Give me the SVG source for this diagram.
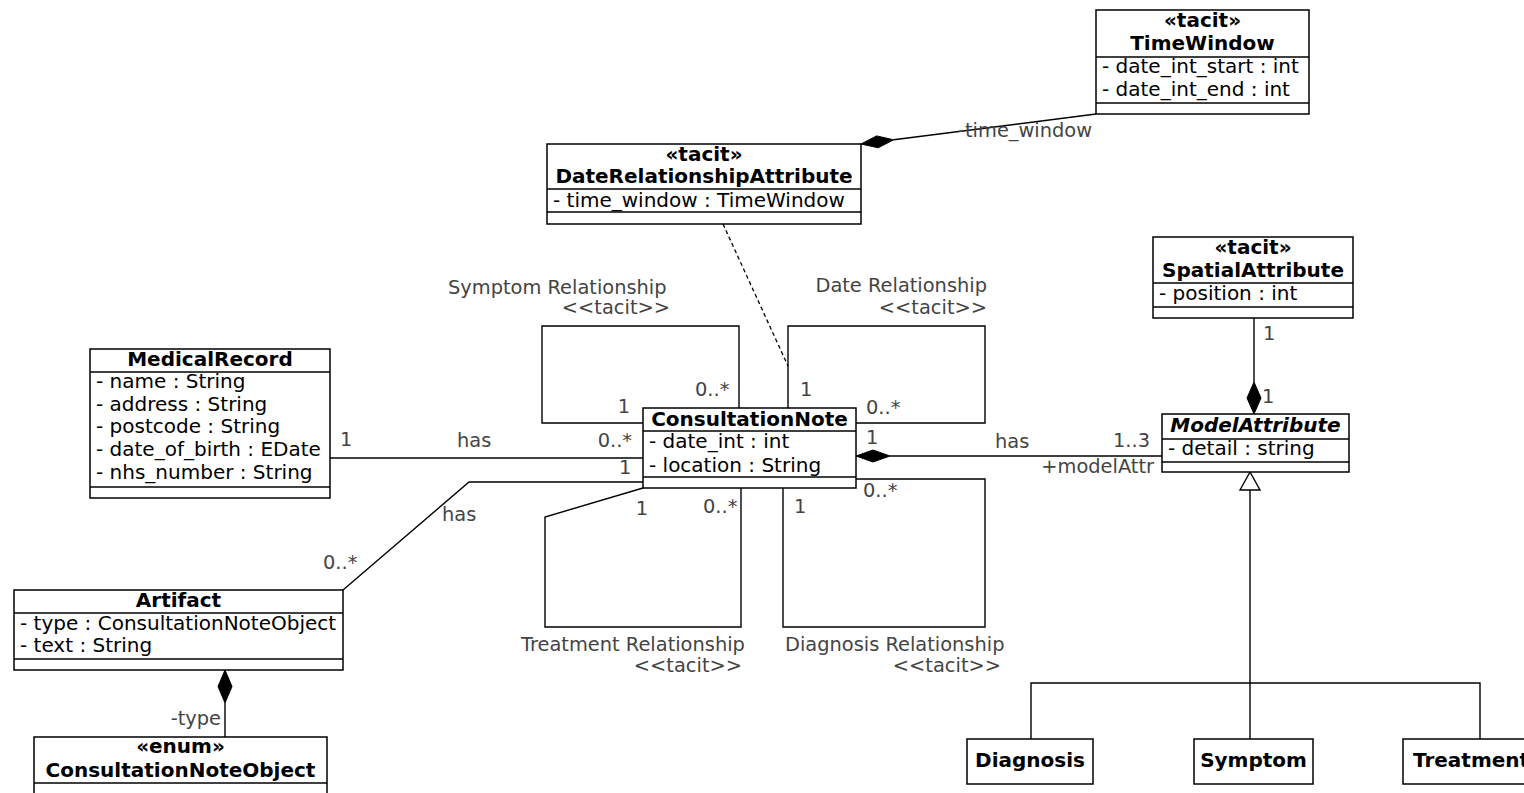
<svg xmlns="http://www.w3.org/2000/svg" width="1524" height="793" viewBox="0 0 1524 793">
  <style>
    .box { fill: #fff; stroke: #000; stroke-width: 1.5; }
    .sep { stroke: #000; stroke-width: 1.5; }
    .t { font-family: "DejaVu Sans", "Liberation Sans", sans-serif; font-size: 20px; fill: #000; }
    .b { font-weight: bold; }
    .c { text-anchor: middle; }
    .e { text-anchor: end; }
    .lbl { fill: #444; font-size: 19.4px; }
    .edge { fill: none; stroke: #000; stroke-width: 1.4; }
    .dash { fill: none; stroke: #000; stroke-width: 1.3; stroke-dasharray: 4 3; }
    .solid { fill: #000; stroke: #000; stroke-width: 1; }
    .hollow { fill: #fff; stroke: #000; stroke-width: 1.4; }
  </style>

  <!-- connectors -->
  <g id="connectors">
    <!-- TimeWindow composed in DateRelationshipAttribute -->
    <path class="edge" d="M893.7 139.8 L1096 114"/>
    <polygon class="solid" points="861,144 876.6,135.9 893.7,139.8 878.2,147.8"/>
    <!-- DateRelationshipAttribute attached to Date Relationship -->
    <path class="dash" d="M723 224 L788 366"/>
    <!-- self associations of ConsultationNote -->
    <path class="edge" d="M739 408 V326 H542 V423 H643"/>
    <path class="edge" d="M788 408 V326 H985 V423 H856"/>
    <path class="edge" d="M741 488 V627 H545 V517 L643 488"/>
    <path class="edge" d="M783 488 V627 H985 V479 H856"/>
    <!-- MedicalRecord has ConsultationNote -->
    <path class="edge" d="M330 458 H643"/>
    <!-- ConsultationNote has Artifact -->
    <path class="edge" d="M343 590 L469 482 H643"/>
    <!-- ConsultationNote has ModelAttribute -->
    <path class="edge" d="M890 456 H1162"/>
    <polygon class="solid" points="856,456 873,450 890,456 873,462"/>
    <!-- SpatialAttribute composed in ModelAttribute -->
    <path class="edge" d="M1254 318 V382"/>
    <polygon class="solid" points="1254,382 1247,398 1254,414 1261,398"/>
    <!-- Artifact type -->
    <path class="edge" d="M225 703 V737"/>
    <polygon class="solid" points="225,670 218,686.5 225,703 232,686.5"/>
    <!-- generalisation of ModelAttribute -->
    <path class="edge" d="M1250 490 V739"/>
    <path class="edge" d="M1031 739 V683 H1480 V739"/>
    <polygon class="hollow" points="1250,472 1240,490 1260,490"/>

    <!-- labels -->
    <text class="t lbl" x="958" y="137">-time_window</text>
    <text class="t lbl" x="448" y="294">Symptom Relationship</text>
    <text class="t lbl e" x="670" y="314">&lt;&lt;tacit&gt;&gt;</text>
    <text class="t lbl c" x="624" y="413">1</text>
    <text class="t lbl" x="695" y="396">0..*</text>
    <text class="t lbl e" x="987" y="292">Date Relationship</text>
    <text class="t lbl e" x="987" y="314">&lt;&lt;tacit&gt;&gt;</text>
    <text class="t lbl" x="800" y="396">1</text>
    <text class="t lbl" x="866" y="414">0..*</text>
    <text class="t lbl c" x="642" y="515">1</text>
    <text class="t lbl" x="703" y="513">0..*</text>
    <text class="t lbl" x="794" y="513">1</text>
    <text class="t lbl" x="863" y="497">0..*</text>
    <text class="t lbl" x="521" y="651">Treatment Relationship</text>
    <text class="t lbl e" x="742" y="672">&lt;&lt;tacit&gt;&gt;</text>
    <text class="t lbl" x="785" y="651">Diagnosis Relationship</text>
    <text class="t lbl e" x="1001" y="672">&lt;&lt;tacit&gt;&gt;</text>
    <text class="t lbl" x="340" y="446">1</text>
    <text class="t lbl" x="457" y="447">has</text>
    <text class="t lbl e" x="632" y="447">0..*</text>
    <text class="t lbl" x="619" y="474">1</text>
    <text class="t lbl" x="442" y="521">has</text>
    <text class="t lbl" x="323" y="569">0..*</text>
    <text class="t lbl" x="866" y="444">1</text>
    <text class="t lbl" x="995" y="448">has</text>
    <text class="t lbl e" x="1150" y="447">1..3</text>
    <text class="t lbl e" x="1154" y="473">+modelAttr</text>
    <text class="t lbl" x="1263" y="340">1</text>
    <text class="t lbl" x="1262" y="403">1</text>
    <text class="t lbl e" x="221" y="725">-type</text>
  </g>

  <g id="TimeWindow">
    <rect class="box" x="1096" y="10" width="213" height="104"/>
    <line class="sep" x1="1096" y1="57" x2="1309" y2="57"/>
    <line class="sep" x1="1096" y1="103" x2="1309" y2="103"/>
    <text class="t b c" x="1202.5" y="27">«tacit»</text>
    <text class="t b c" x="1202.5" y="50">TimeWindow</text>
    <text class="t" x="1102" y="73">- date_int_start : int</text>
    <text class="t" x="1102" y="96">- date_int_end : int</text>
  </g>

  <g id="DateRelationshipAttribute">
    <rect class="box" x="547" y="144" width="314" height="80"/>
    <line class="sep" x1="547" y1="189" x2="861" y2="189"/>
    <line class="sep" x1="547" y1="212" x2="861" y2="212"/>
    <text class="t b c" x="704" y="161">«tacit»</text>
    <text class="t b c" x="704" y="183">DateRelationshipAttribute</text>
    <text class="t" x="553" y="207">- time_window : TimeWindow</text>
  </g>

  <g id="MedicalRecord">
    <rect class="box" x="90" y="349" width="240" height="149"/>
    <line class="sep" x1="90" y1="372" x2="330" y2="372"/>
    <line class="sep" x1="90" y1="487" x2="330" y2="487"/>
    <text class="t b c" x="210" y="366">MedicalRecord</text>
    <text class="t" x="96" y="388">- name : String</text>
    <text class="t" x="96" y="411">- address : String</text>
    <text class="t" x="96" y="433">- postcode : String</text>
    <text class="t" x="96" y="456">- date_of_birth : EDate</text>
    <text class="t" x="96" y="479">- nhs_number : String</text>
  </g>

  <g id="ConsultationNote">
    <rect class="box" x="643" y="408" width="213" height="80"/>
    <line class="sep" x1="643" y1="431" x2="856" y2="431"/>
    <line class="sep" x1="643" y1="477" x2="856" y2="477"/>
    <text class="t b c" x="749.5" y="426">ConsultationNote</text>
    <text class="t" x="649" y="448">- date_int : int</text>
    <text class="t" x="649" y="472">- location : String</text>
  </g>

  <g id="SpatialAttribute">
    <rect class="box" x="1153" y="237" width="200" height="81"/>
    <line class="sep" x1="1153" y1="283" x2="1353" y2="283"/>
    <line class="sep" x1="1153" y1="307" x2="1353" y2="307"/>
    <text class="t b c" x="1253" y="254">«tacit»</text>
    <text class="t b c" x="1253" y="277">SpatialAttribute</text>
    <text class="t" x="1159" y="300">- position : int</text>
  </g>

  <g id="ModelAttribute">
    <rect class="box" x="1162" y="414" width="187" height="58"/>
    <line class="sep" x1="1162" y1="439" x2="1349" y2="439"/>
    <line class="sep" x1="1162" y1="462" x2="1349" y2="462"/>
    <text class="t b c" x="1255.5" y="432" font-style="italic">ModelAttribute</text>
    <text class="t" x="1168" y="455">- detail : string</text>
  </g>

  <g id="Artifact">
    <rect class="box" x="14" y="590" width="329" height="80"/>
    <line class="sep" x1="14" y1="613" x2="343" y2="613"/>
    <line class="sep" x1="14" y1="659" x2="343" y2="659"/>
    <text class="t b c" x="178.5" y="607">Artifact</text>
    <text class="t" x="20" y="630">- type : ConsultationNoteObject</text>
    <text class="t" x="20" y="652">- text : String</text>
  </g>

  <g id="ConsultationNoteObject">
    <rect class="box" x="34" y="737" width="293" height="70"/>
    <line class="sep" x1="34" y1="783" x2="327" y2="783"/>
    <text class="t b c" x="180.5" y="753">«enum»</text>
    <text class="t b c" x="180.5" y="777">ConsultationNoteObject</text>
  </g>

  <g id="Diagnosis">
    <rect class="box" x="967" y="739" width="126" height="45"/>
    <text class="t b c" x="1030" y="767">Diagnosis</text>
  </g>

  <g id="Symptom">
    <rect class="box" x="1194" y="739" width="119" height="45"/>
    <text class="t b c" x="1253.5" y="767">Symptom</text>
  </g>

  <g id="Treatment">
    <rect class="box" x="1403" y="739" width="130" height="45"/>
    <text class="t b" x="1413" y="767">Treatment</text>
  </g>
</svg>
